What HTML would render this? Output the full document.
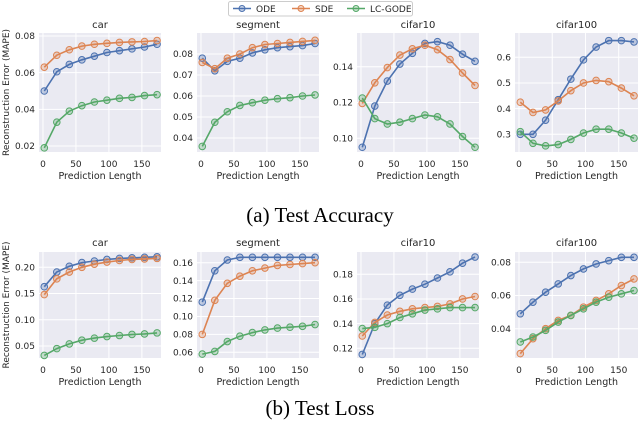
<!DOCTYPE html>
<html><head><meta charset="utf-8">
<style>
html,body{margin:0;padding:0;background:#fff;}
body{width:640px;height:436px;overflow:hidden;}
svg text{font-family:"DejaVu Sans","Liberation Sans",sans-serif;fill:#262626;}
.cap{font-family:"Liberation Serif",serif;fill:#000;}
</style></head>
<body>
<svg id="chart" width="640" height="436" xmlns="http://www.w3.org/2000/svg"></svg>
<script>
const xValues=[2,21,40,59,78,97,116,135,154,173];
const xTicks=[0,50,100,150];
const seriesNames=["ODE","SDE","LC-GODE"];
const colors=["#4c72b0","#dd8452","#55a868"];
const panelTitles=["car","segment","cifar10","cifar100"];
// Test accuracy
const accCarODE=[0.050,0.0605,0.0645,0.067,0.069,0.071,0.072,0.073,0.074,0.0755];
const accCarSDE=[0.063,0.0695,0.0725,0.0745,0.0755,0.076,0.0765,0.0768,0.077,0.0775];
const accCarLC=[0.019,0.033,0.039,0.042,0.044,0.045,0.046,0.0465,0.0475,0.048];
const accSegODE=[0.078,0.072,0.0765,0.078,0.0805,0.082,0.083,0.0835,0.084,0.085];
const accSegSDE=[0.076,0.073,0.078,0.080,0.083,0.0845,0.085,0.0855,0.086,0.0865];
const accSegLC=[0.036,0.0475,0.0525,0.0555,0.0568,0.058,0.0587,0.0592,0.060,0.0605];
const accC10ODE=[0.095,0.118,0.132,0.1415,0.1475,0.153,0.154,0.152,0.147,0.143];
const accC10SDE=[0.1195,0.131,0.1395,0.1465,0.150,0.152,0.1495,0.144,0.1365,0.1295];
const accC10LC=[0.1225,0.111,0.108,0.109,0.111,0.113,0.112,0.108,0.101,0.095];
const accC100ODE=[0.30,0.30,0.355,0.435,0.515,0.59,0.64,0.665,0.665,0.66];
const accC100SDE=[0.425,0.385,0.395,0.43,0.47,0.50,0.51,0.505,0.48,0.45];
const accC100LC=[0.31,0.265,0.255,0.26,0.28,0.305,0.32,0.32,0.305,0.285];
// Test loss
const lossCarODE=[0.163,0.191,0.202,0.209,0.212,0.215,0.217,0.218,0.219,0.220];
const lossCarSDE=[0.148,0.178,0.191,0.200,0.206,0.210,0.213,0.215,0.216,0.217];
const lossCarLC=[0.032,0.045,0.054,0.061,0.065,0.068,0.070,0.072,0.073,0.075];
const lossSegODE=[0.116,0.151,0.163,0.166,0.166,0.166,0.166,0.166,0.166,0.166];
const lossSegSDE=[0.080,0.118,0.137,0.145,0.151,0.154,0.157,0.158,0.159,0.160];
const lossSegLC=[0.058,0.061,0.072,0.078,0.082,0.085,0.087,0.088,0.089,0.091];
const lossC10ODE=[0.115,0.140,0.155,0.163,0.168,0.172,0.177,0.182,0.189,0.194];
const lossC10SDE=[0.130,0.141,0.147,0.150,0.152,0.153,0.154,0.156,0.160,0.162];
const lossC10LC=[0.136,0.137,0.140,0.145,0.148,0.151,0.152,0.153,0.153,0.153];
const lossC100ODE=[0.049,0.056,0.062,0.067,0.072,0.076,0.079,0.081,0.083,0.083];
const lossC100SDE=[0.025,0.034,0.040,0.045,0.048,0.053,0.057,0.061,0.066,0.070];
const lossC100LC=[0.032,0.035,0.039,0.044,0.048,0.052,0.056,0.059,0.061,0.063];
const accTicks=[[0.02,0.04,0.06,0.08],[0.04,0.05,0.06,0.07,0.08],[0.10,0.12,0.14],[0.3,0.4,0.5,0.6]];
const lossTicks=[[0.05,0.10,0.15,0.20],[0.06,0.08,0.10,0.12,0.14,0.16],[0.12,0.14,0.16,0.18],[0.04,0.06,0.08]];
const accTickLabels=[["0.02","0.04","0.06","0.08"],["0.04","0.05","0.06","0.07","0.08"],["0.10","0.12","0.14"],["0.3","0.4","0.5","0.6"]];
const lossTickLabels=[["0.05","0.10","0.15","0.20"],["0.06","0.08","0.10","0.12","0.14","0.16"],["0.12","0.14","0.16","0.18"],["0.04","0.06","0.08"]];

const NS="http://www.w3.org/2000/svg";
const svg=document.getElementById('chart');
function mk(tag,attrs,parent){const e=document.createElementNS(NS,tag);for(const k in attrs)e.setAttribute(k,attrs[k]);(parent||svg).appendChild(e);return e;}

const colLeft=[39,197,357,515], colRight=[161,319,479,638];
const xDom=[-6,179];
// y calibration: [v1,p1,v2,p2]
const accCal=[[0.08,36,0.02,146],[0.08,54,0.04,138],[0.14,66.7,0.10,138.3],[0.6,57.3,0.3,134.3]];
const lossCal=[[0.20,267.3,0.05,346],[0.16,262.7,0.06,352.3],[0.18,274.3,0.12,348.3],[0.08,262.3,0.04,328.7]];
const rows=[
 {top:33,bot:152,cal:accCal,ticks:accTicks,labels:accTickLabels,title:28,tickY:167,xl:179,name:'accuracy',
  data:[[accCarODE,accCarSDE,accCarLC],[accSegODE,accSegSDE,accSegLC],[accC10ODE,accC10SDE,accC10LC],[accC100ODE,accC100SDE,accC100LC]]},
 {top:252,bot:358,cal:lossCal,ticks:lossTicks,labels:lossTickLabels,title:246,tickY:373,xl:385,name:'loss',
  data:[[lossCarODE,lossCarSDE,lossCarLC],[lossSegODE,lossSegSDE,lossSegLC],[lossC10ODE,lossC10SDE,lossC10LC],[lossC100ODE,lossC100SDE,lossC100LC]]}
];
rows.forEach((r,ri)=>{
 for(let c=0;c<4;c++){
  const L=colLeft[c],R=colRight[c];
  const xs=v=>L+(v-xDom[0])/(xDom[1]-xDom[0])*(R-L);
  const [v1,p1,v2,p2]=r.cal[c];
  const ys=v=>p1+(v-v1)*(p2-p1)/(v2-v1);
  const g=mk('g',{});
  
  
  const bg=mk('rect',{x:L,y:r.top,width:R-L,height:r.bot-r.top,fill:'#eaeaf2'},g);
  
  
  xTicks.forEach(t=>{
   mk('line',{x1:xs(t),x2:xs(t),y1:r.top,y2:r.bot,stroke:'#fff','stroke-width':1},g);
   const tx=mk('text',{x:xs(t),y:r.tickY,'font-size':9,'text-anchor':'middle'},g);tx.textContent=t;
   
   
  });
  r.ticks[c].forEach((t,i)=>{
   mk('line',{x1:L,x2:R,y1:ys(t),y2:ys(t),stroke:'#fff','stroke-width':1},g);
   const tx=mk('text',{x:L-4,y:ys(t)+3.2,'font-size':9,'text-anchor':'end'},g);tx.textContent=r.labels[c][i];
   
   
  });
  const ti=mk('text',{x:(L+R)/2,y:r.title,'font-size':10,'text-anchor':'middle'},g);ti.textContent=panelTitles[c];
  
  
  const xl=mk('text',{x:(L+R)/2,y:r.xl,'font-size':9.5,'text-anchor':'middle'},g);xl.textContent='Prediction Length';
  
  
  r.data[c].forEach((ser,si)=>{
   const pts=ser.map((v,i)=>xs(xValues[i]).toFixed(1)+','+ys(v).toFixed(1)).join(' ');
   const pl=mk('polyline',{points:pts,fill:'none',stroke:colors[si],'stroke-width':1.6},g);
   
   
   ser.forEach((v,i)=>{
    const p=mk('circle',{cx:xs(xValues[i]),cy:ys(v),r:3.3,fill:colors[si],'fill-opacity':0.3,stroke:colors[si],'stroke-width':1},g);
    
    
   });
  });
 }
 const yl=mk('text',{x:0,y:0,'font-size':9,'text-anchor':'middle',transform:'translate(9,'+((r.top+r.bot)/2)+') rotate(-90)'});
 yl.textContent='Reconstruction Error (MAPE)';
 
 
});
// captions
const c1=mk('text',{x:320,y:222,'font-size':21,'text-anchor':'middle',class:'cap'});c1.textContent='(a) Test Accuracy';


const c2=mk('text',{x:320,y:415,'font-size':21,'text-anchor':'middle',class:'cap'});c2.textContent='(b) Test Loss';


// legend
const lg=mk('g',{});


mk('rect',{x:228.5,y:1.5,width:184,height:14.5,rx:2,fill:'#fff',stroke:'#ccc','stroke-width':1},lg);
const lx=[233,292,347];
seriesNames.forEach((n,i)=>{
 const e=mk('g',{},lg);
 
 
 mk('line',{x1:lx[i],x2:lx[i]+18,y1:8.5,y2:8.5,stroke:colors[i],'stroke-width':1.6},e);
 mk('circle',{cx:lx[i]+9,cy:8.5,r:3,fill:colors[i],'fill-opacity':0.3,stroke:colors[i],'stroke-width':1},e);
 const t=mk('text',{x:lx[i]+23,y:12,'font-size':9},e);t.textContent=n;
});
</script>
</body></html>
